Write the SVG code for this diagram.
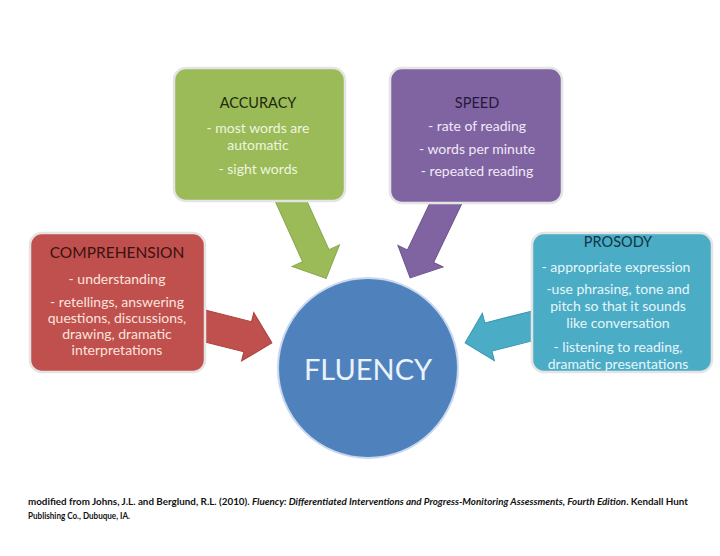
<svg xmlns="http://www.w3.org/2000/svg" width="720" height="556" viewBox="0 0 720 556">
<style>
.box{stroke:#e4e4e4;stroke-width:2.5}
.arrow{stroke-width:1}
.hd{font-family:Lato,"Liberation Sans",Arial,sans-serif;font-size:14.5px;text-anchor:middle}
.bd{font-family:Lato,"Liberation Sans",Arial,sans-serif;font-size:14px;text-anchor:middle}
.ft{font-family:Lato,"Liberation Sans",Arial,sans-serif;font-size:8.6px;font-weight:bold;fill:#111}
</style>
<defs>
<clipPath id="clipPro"><rect x="532" y="233" width="180" height="139" rx="12"/></clipPath>
</defs>
<rect width="720" height="556" fill="#ffffff"/>
<g id="connectors">
<path class="arrow" fill="#9bbb59" stroke="#86a84a" transform="translate(291,201) rotate(65.6)" d="M-12,-14.5 L60,-14.5 L60,-26 L85,0 L60,26 L60,14.5 L-12,14.5 Z"/>
<path class="arrow" fill="#8064a2" stroke="#6d528f" transform="translate(446,203) rotate(115.6)" d="M-12,-14.5 L59,-14.5 L59,-25 L83,0 L59,25 L59,14.5 L-12,14.5 Z"/>
<path class="arrow" fill="#c0504d" stroke="#a9403d" transform="translate(205,326) rotate(14.2)" d="M-12,-15.5 L44,-15.5 L44,-25 L69,0 L44,25 L44,15.5 L-12,15.5 Z"/>
<path class="arrow" fill="#4bacc6" stroke="#3a97b0" transform="translate(532,326) rotate(165.8)" d="M-12,-14.5 L45,-14.5 L45,-24.5 L69,0 L45,24.5 L45,14.5 L-12,14.5 Z"/>
</g>
<g id="accuracy">
<rect class="box" x="174" y="68" width="171" height="133" rx="12" fill="#9bbb59"/>
<text class="hd" x="258" y="108" fill="#1e2a0c">ACCURACY</text>
<text class="bd" x="258" y="133" fill="#eef5df">- most words are</text>
<text class="bd" x="258" y="150" fill="#eef5df">automatic</text>
<text class="bd" x="258" y="174" fill="#eef5df">- sight words</text>
</g>
<g id="speed">
<rect class="box" x="390" y="68" width="172" height="135" rx="12" fill="#8064a2"/>
<text class="hd" x="477" y="108" fill="#26183a">SPEED</text>
<text class="bd" x="477" y="131" fill="#f0e9f7">- rate of reading</text>
<text class="bd" x="477" y="154" fill="#f0e9f7">- words per minute</text>
<text class="bd" x="477" y="176" fill="#f0e9f7">- repeated reading</text>
</g>
<g id="comprehension">
<rect class="box" x="30" y="233" width="175" height="139" rx="12" fill="#c0504d"/>
<text class="hd" x="117" y="258" fill="#3a1210" style="font-size:15.5px">COMPREHENSION</text>
<text class="bd" x="117" y="284" fill="#fbe3de">- understanding</text>
<text class="bd" x="117" y="307" fill="#fbe3de">- retellings, answering</text>
<text class="bd" x="117" y="323" fill="#fbe3de">questions, discussions,</text>
<text class="bd" x="117" y="339" fill="#fbe3de">drawing, dramatic</text>
<text class="bd" x="117" y="355" fill="#fbe3de">interpretations</text>
</g>
<g id="prosody">
<rect class="box" x="532" y="233" width="180" height="139" rx="12" fill="#4bacc6"/>
<text class="hd" x="618" y="247" fill="#0e3644">PROSODY</text>
<g clip-path="url(#clipPro)">
<text class="bd" x="616" y="272" fill="#e6f6fa">- appropriate expression</text>
<text class="bd" x="618" y="294" fill="#e6f6fa">-use phrasing, tone and</text>
<text class="bd" x="618" y="311" fill="#e6f6fa">pitch so that it sounds</text>
<text class="bd" x="618" y="328" fill="#e6f6fa">like conversation</text>
<text class="bd" x="618" y="352" fill="#e6f6fa">- listening to reading,</text>
<text class="bd" x="618" y="369" fill="#e6f6fa">dramatic presentations</text>
</g>
</g>
<g id="fluency">
<circle cx="368" cy="368" r="90" fill="#4f81bd" stroke="#c9d8ec" stroke-width="2"/>
<text x="368" y="380" fill="#eaf2fb" style="font-family:Lato,'Liberation Sans',Arial,sans-serif;font-size:29px;text-anchor:middle">FLUENCY</text>
</g>
<g id="citation">
<text class="ft" x="28" y="505" textLength="660" lengthAdjust="spacingAndGlyphs">modified from Johns, J.L. and Berglund, R.L. (2010). <tspan font-style="italic">Fluency: Differentiated Interventions and Progress-Monitoring Assessments, Fourth Edition</tspan>. Kendall Hunt</text>
<text class="ft" x="28" y="519" textLength="102" lengthAdjust="spacingAndGlyphs">Publishing Co., Dubuque, IA.</text>
</g>
</svg>
